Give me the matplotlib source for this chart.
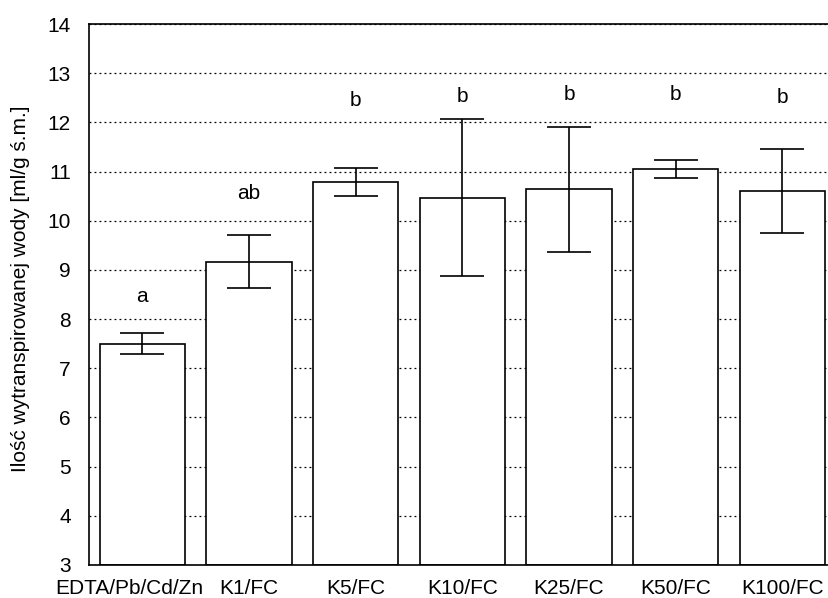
import matplotlib
matplotlib.use("Agg")
import matplotlib.pyplot as plt
import matplotlib.transforms as mtransforms
import numpy as np

plt.rcParams['font.family'] = ['Liberation Sans', 'DejaVu Sans']

categories = ["EDTA/Pb/Cd/Zn", "K1/FC", "K5/FC", "K10/FC", "K25/FC", "K50/FC", "K100/FC"]
means = [7.50, 9.17, 10.79, 10.47, 10.64, 11.05, 10.60]
errors = [0.21, 0.53, 0.28, 1.60, 1.27, 0.19, 0.85]
groups = ["a", "ab", "b", "b", "b", "b", "b"]
group_y = [8.45, 10.56, 12.44, 12.52, 12.56, 12.56, 12.50]
yticks = list(range(3, 15))

fig = plt.figure(figsize=(8.29, 5.98), dpi=100)
ax = fig.add_axes([89 / 829, 1 - 565 / 598, 746.7 / 829, 541 / 598])

x = np.arange(len(categories))
ax.bar(x, np.array(means) - 3, bottom=3, width=0.8, color="white",
       edgecolor="black", linewidth=1.2, zorder=2)
ax.errorbar(x, means, yerr=errors, fmt="none", ecolor="black",
            elinewidth=1.2, capsize=15.5, capthick=1.2, zorder=3)

for xi, g, gy in zip(x, groups, group_y):
    ax.text(xi, gy, g, ha="center", va="center", fontsize=15)

ax.set_xlim(-0.5, 6.5)
ax.set_ylim(3, 14)
ax.set_yticks(yticks)
ax.set_xticks(x)
ax.set_xticklabels(categories)
ax.tick_params(axis="both", length=0, labelsize=15)
ax.tick_params(axis="y", pad=13)
ax.tick_params(axis="x", pad=10)

# the long first label sits a little left of its bar
first = ax.get_xticklabels()[0]
first.set_transform(first.get_transform() +
                    mtransforms.ScaledTranslation(-13 / 100, 0, fig.dpi_scale_trans))

ax.yaxis.grid(True, linestyle=(0, (1.5, 2.5)), color="black", linewidth=0.9, zorder=0)
ax.set_axisbelow(True)
for s in ax.spines.values():
    s.set_linewidth(1.2)

ax.set_ylabel("Ilość wytranspirowanej wody [ml/g ś.m.]", fontsize=15)
ax.yaxis.set_label_coords(-0.0796, 0.51)

fig.savefig("out.png", dpi=100)
